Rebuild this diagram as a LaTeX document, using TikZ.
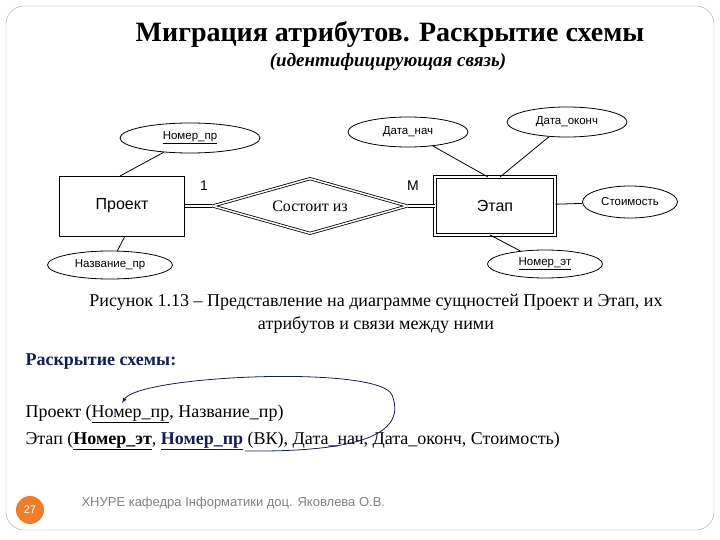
\documentclass[tikz,border=0pt]{standalone}
\usepackage{fontspec}
\setmainfont{Liberation Serif}
\newfontfamily\sansf{Liberation Sans}
\usetikzlibrary{shapes.geometric}
\definecolor{navy}{RGB}{20,30,80}
\definecolor{orng}{RGB}{240,125,40}
\begin{document}
\begin{tikzpicture}[x=1pt,y=-1pt,
  attr/.style={draw,ellipse,thick,inner sep=0pt,font=\sansf\fontsize{11.5}{13}\selectfont},
  ent/.style={draw,thick,inner sep=0pt,font=\sansf\fontsize{16}{18}\selectfont},
  link/.style={thick},
  dbl/.style={double,double distance=1.5pt,thick}]
\useasboundingbox (0,0) rectangle (720,540);
\draw[gray!70, rounded corners=18] (6,6) rectangle (714,530);
\node (t1) at (390,35) {\fontsize{28}{32}\selectfont\bfseries Миграция атрибутов. Раскрытие схемы};
\node (t2) at (388,62) {\fontsize{19}{22}\selectfont\bfseries\itshape (идентифицирующая связь)};
\node[ent,minimum width=125,minimum height=60] (pr) at (122,206) {Проект};
\node[ent,double,double distance=1.5pt,minimum width=120,minimum height=58] (et) at (495,206) {Этап};
\node[draw,diamond,double,double distance=1.5pt,thick,aspect=3.5,minimum width=195,minimum height=55,inner sep=0pt,font=\fontsize{16}{18}\selectfont] (rel) at (310,206) {Состоит из};
\node[attr,minimum width=140,minimum height=30] (np) at (190,138) {\underline{Номер\_пр}};
\node[attr,minimum width=125,minimum height=28] (nazv) at (110,265) {Название\_пр};
\node[attr,minimum width=120,minimum height=30] (dn) at (408,132) {Дата\_нач};
\node[attr,minimum width=120,minimum height=30] (dk) at (567,122) {Дата\_оконч};
\node[attr,minimum width=95,minimum height=32] (st) at (630,202) {Стоимость};
\node[attr,minimum width=115,minimum height=28] (ne) at (545,264) {\underline{Номер\_эт}};
\coordinate (c1) at (120,176);
\coordinate (c2) at (125,236);
\coordinate (c3) at (488,177);
\coordinate (c4) at (500,177);
\coordinate (c5) at (490,235);
\draw[link] (np) -- (c1);
\draw[link] (nazv) -- (c2);
\draw[link] (dn) -- (c3);
\draw[link] (dk) -- (c4);
\draw[link] (st) -- (et);
\draw[link] (ne) -- (c5);
\draw[dbl] (pr) -- (rel);
\draw[dbl] (rel) -- (et);
\node[font=\sansf\fontsize{14}{16}\selectfont] (one) at (204,186) {1};
\node[font=\sansf\fontsize{14}{16}\selectfont] (m) at (413,186) {М};
\node[align=center,font=\fontsize{18}{23}\selectfont] (cap) at (376,314) {Рисунок 1.13 – Представление на диаграмме сущностей Проект и Этап, их\\атрибутов и связи между ними};
\node[anchor=west,text=navy,font=\fontsize{18}{20}\selectfont\bfseries] (rs) at (22,362) {Раскрытие схемы:};
\node[anchor=west,font=\fontsize{18}{20}\selectfont] (l1) at (22,414) {Проект (\underline{Номер\_пр}, Название\_пр)};
\node[anchor=west,font=\fontsize{18}{20}\selectfont] (l2) at (22,441) {Этап (\underline{\textbf{Номер\_эт}}, \textcolor{navy}{\underline{\textbf{Номер\_пр}}} (ВК), Дата\_нач, Дата\_оконч, Стоимость)};
\coordinate (a0) at (245,451);
\coordinate (a1) at (122,403);
\draw[navy,thick,-latex] (a0) .. controls (340,452) and (410,440) .. (392,395) .. controls (380,365) and (140,375) .. (a1);
\node[circle,fill=orng,minimum size=28,inner sep=0pt,text=white,font=\sansf\fontsize{11}{13}\selectfont] (pg) at (30,510) {27};
\node[anchor=west,text=gray,font=\sansf\fontsize{13}{15}\selectfont] (ft) at (78,503) {ХНУРЕ кафедра Інформатики доц. Яковлева О.В.};
\end{tikzpicture}
\end{document}
